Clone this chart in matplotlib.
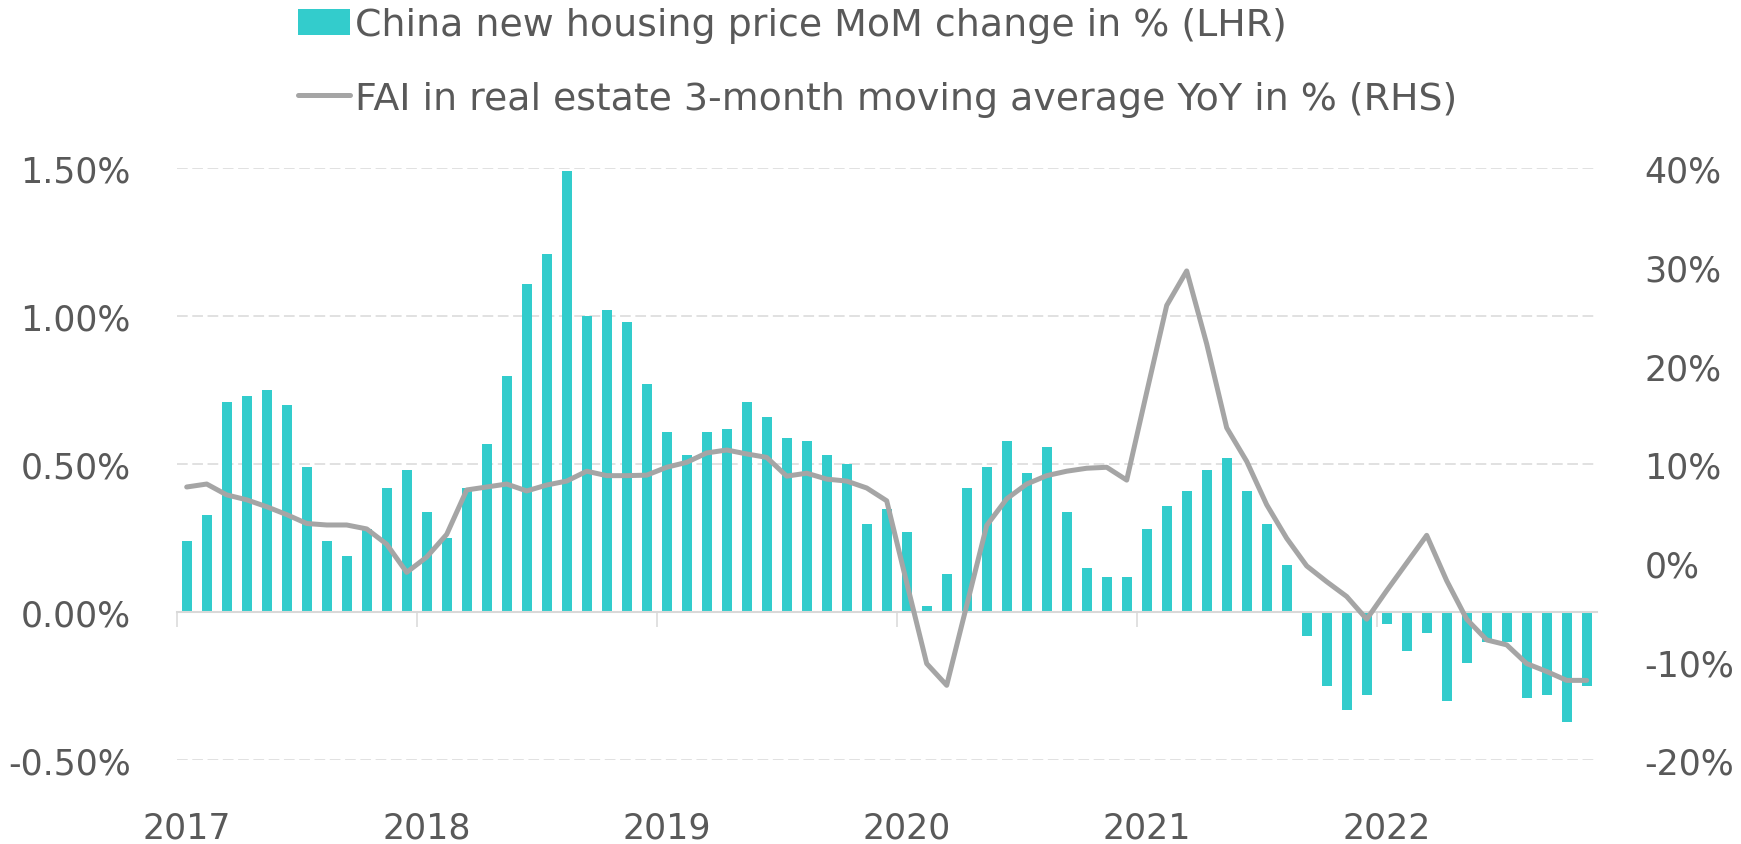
import matplotlib
matplotlib.use("Agg")
import matplotlib.pyplot as plt
from matplotlib.lines import Line2D
from matplotlib.patches import Patch
import numpy as np

plt.rcParams["font.family"] = ["DejaVu Sans"]

TEXT = "#595959"
TEAL = "#33CCCC"
GREY_LINE = "#A5A5A5"
GRID = "#D9D9D9"

years = ["2017", "2018", "2019", "2020", "2021", "2022"]

# China new housing price MoM change, % (left axis), Jan 2017 .. Nov 2022
housing_mom = [
    0.24, 0.33, 0.71, 0.73, 0.75, 0.70, 0.49, 0.24, 0.19, 0.28, 0.42, 0.48,
    0.34, 0.25, 0.42, 0.57, 0.80, 1.11, 1.21, 1.49, 1.00, 1.02, 0.98, 0.77,
    0.61, 0.53, 0.61, 0.62, 0.71, 0.66, 0.59, 0.58, 0.53, 0.50, 0.30, 0.35,
    0.27, 0.02, 0.13, 0.42, 0.49, 0.58, 0.47, 0.56, 0.34, 0.15, 0.12, 0.12,
    0.28, 0.36, 0.41, 0.48, 0.52, 0.41, 0.30, 0.16, -0.08, -0.25, -0.33, -0.28,
    -0.04, -0.13, -0.07, -0.30, -0.17, -0.10, -0.10, -0.29, -0.28, -0.37, -0.25,
]

# FAI in real estate, 3-month moving average YoY, % (right axis)
fai_3mma = [
    7.7, 8.0, 6.9, 6.4, 5.7, 4.9, 4.0, 3.85, 3.85, 3.45, 1.9, -0.95,
    0.6, 2.9, 7.4, 7.7, 8.0, 7.3, 7.9, 8.3, 9.3, 8.85, 8.85, 8.9,
    9.7, 10.2, 11.15, 11.45, 11.05, 10.7, 8.8, 9.1, 8.5, 8.3, 7.6, 6.3,
    -2.0, -10.2, -12.4, -4.3, 3.8, 6.5, 8.0, 8.85, 9.3, 9.6, 9.7, 8.4,
    17.3, 26.1, 29.6, 22.2, 13.7, 10.3, 5.9, 2.5, -0.3, -1.9, -3.4, -5.7,
    -2.8, 0.0, 2.8, -1.8, -5.7, -7.8, -8.3, -10.2, -11.0, -11.9, -11.9,
]

left_ticks = [-0.5, 0.0, 0.5, 1.0, 1.5]
right_ticks = [-20, -10, 0, 10, 20, 30, 40]

x = np.arange(len(housing_mom))
jan_idx = x[::12]

fig = plt.figure(figsize=(17.41, 8.45), dpi=100)
ax = fig.add_axes([176.7 / 1741, (845 - 761.3) / 845, 1420 / 1741, 592 / 845])

ax.bar(x, housing_mom, width=0.5, color=TEAL, zorder=2)
ax.set_xlim(-0.5, len(x) - 0.5)
ax.set_ylim(-0.5, 1.5)
ax.set_yticks(left_ticks, labels=[f"{v:.2f}%" for v in left_ticks])
ax.yaxis.grid(True, color=GRID, lw=1.1, ls=(0, (7, 3)))
ax.set_axisbelow(True)

for s in ["top", "right", "left"]:
    ax.spines[s].set_visible(False)
ax.spines["bottom"].set_position(("data", 0))
ax.spines["bottom"].set_color(GRID)
ax.spines["bottom"].set_linewidth(1.5)
ax.spines["bottom"].set_zorder(3)
ax.set_xticks(jan_idx - 0.5)
ax.tick_params(axis="x", length=11, width=1.1, color=GRID, direction="out", labelbottom=False)
ax.tick_params(axis="y", length=0, pad=33, labelsize=25, labelcolor=TEXT)

sec = ax.secondary_xaxis("bottom")
sec.set_xticks(jan_idx, labels=years)
sec.tick_params(length=0, pad=36, labelsize=25, labelcolor=TEXT)
sec.spines["bottom"].set_visible(False)

ax2 = ax.twinx()
ax2.plot(x, fai_3mma, color=GREY_LINE, lw=3.6, solid_joinstyle="round", solid_capstyle="round", zorder=4)
ax2.set_ylim(-20, 40)
ax2.set_yticks(right_ticks, labels=[f"{v}%" for v in right_ticks])
ax2.tick_params(axis="y", length=0, pad=34.5, labelsize=25, labelcolor=TEXT)
for s in ax2.spines.values():
    s.set_visible(False)

handles = [
    Patch(facecolor=TEAL, edgecolor="none"),
    Line2D([0], [0], color=GREY_LINE, lw=3.6, solid_capstyle="round"),
]
labels = [
    "China new housing price MoM change in % (LHR)",
    "FAI in real estate 3-month moving average YoY in % (RHS)",
]
fig.legend(handles, labels, loc="upper left", bbox_to_anchor=(298 / 1741, 1 - 8.5 / 845),
           frameon=False, fontsize=27.3, labelcolor=TEXT, handlelength=1.37, handleheight=0.69,
           handletextpad=0.13, labelspacing=0.98, borderpad=0, borderaxespad=0)

fig.savefig("out.png", dpi=100)
